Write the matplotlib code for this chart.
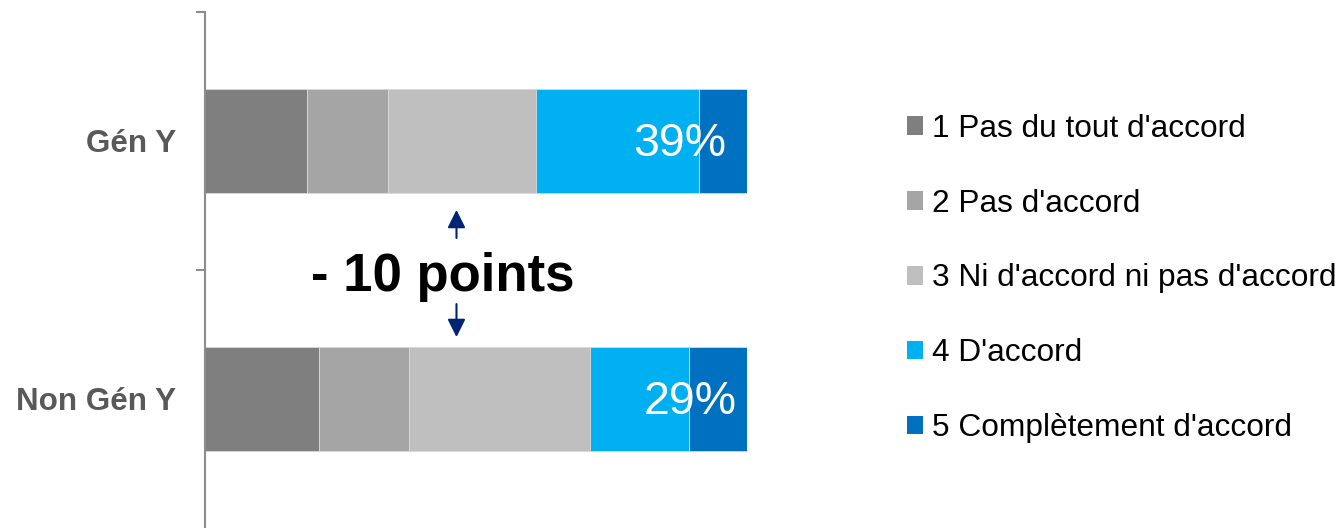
import matplotlib
matplotlib.use("Agg")
import matplotlib.pyplot as plt
from matplotlib.patches import Patch
import numpy as np

plt.rcParams['font.family'] = ['Liberation Sans', 'DejaVu Sans']

# Data: share of answers (%) per group, on a 1-5 agreement scale
groups = ["Gén Y", "Non Gén Y"]
answers = ["1 Pas du tout d'accord", "2 Pas d'accord", "3 Ni d'accord ni pas d'accord",
           "4 D'accord", "5 Complètement d'accord"]
scale_1 = [18.8, 21.1]
scale_2 = [15.0, 16.5]
scale_3 = [27.2, 33.4]
scale_4 = [30.2, 18.3]
scale_5 = [8.8, 10.7]
# x position (right edge) of the "agree" total label on each bar
label_right = [96.1, 98.0]
gap_text = "- 10 points"

colors = ["#7F7F7F", "#A5A5A5", "#BFBFBF", "#00B0F0", "#0070C0"]
series = [scale_1, scale_2, scale_3, scale_4, scale_5]

W, H = 1344, 528
fig = plt.figure(figsize=(W / 100, H / 100), dpi=100)
ax = fig.add_axes([205 / W, 0, 542 / W, 516 / H])

y = np.arange(len(groups))
left = np.zeros(len(groups))
for vals, col, name in zip(series, colors, answers):
    ax.barh(y, vals, left=left, height=0.4, color=col, edgecolor="#d9d9d9",
            linewidth=0.6, label=name)
    left += np.array(vals)

ax.set_xlim(0, 100)
ax.set_ylim(1.5, -0.5)

# Total of "agree" answers (4 + 5) written on each bar
for i in range(len(groups)):
    agree = scale_4[i] + scale_5[i]
    ax.text(label_right[i], y[i] + 0.012, f"{agree:.0f}%", ha="right", va="center",
            color="white", fontsize=33.5)

# Gap between the two groups
ax.text(43.9, 0.580, gap_text, ha="center", va="baseline", fontsize=38,
        fontweight="bold", color="black")
arrow_kw = dict(arrowstyle="-|>", color="#002473", lw=1.5, mutation_scale=27,
                shrinkA=0, shrinkB=0)
ax.annotate("", xy=(46.4, 0.267), xytext=(46.4, 0.376), arrowprops=arrow_kw)
ax.annotate("", xy=(46.4, 0.760), xytext=(46.4, 0.632), arrowprops=arrow_kw)

# Axes styling
for s in ["top", "right", "bottom"]:
    ax.spines[s].set_visible(False)
ax.spines["left"].set_color("#8c8c8c")
ax.spines["left"].set_linewidth(1.5)
ax.set_xticks([])
ax.set_yticks(y)
ax.set_yticklabels(groups, fontsize=22.6, fontweight="bold", color="#595959")
ax.tick_params(axis="y", which="major", length=0, pad=21)
ax.set_yticks([-0.5, 0.5], minor=True)
ax.tick_params(axis="y", which="minor", length=6.5, width=1.5, color="#8c8c8c")

handles = [Patch(facecolor=c, edgecolor="none") for c in colors]
fig.legend(handles, answers, loc="center left",
           bbox_to_anchor=(907 / W, 1 - 278.5 / H), frameon=False, fontsize=22.8,
           handlelength=0.52, handleheight=0.52, handletextpad=0.27,
           labelspacing=1.42, borderpad=0, borderaxespad=0)

fig.savefig("out.png", dpi=100)
